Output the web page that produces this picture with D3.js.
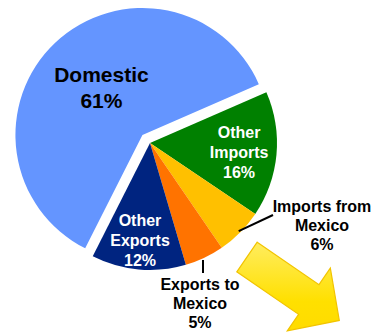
<!DOCTYPE html>
<html>
<head>
<meta charset="utf-8">
<script src="https://cdn.jsdelivr.net/npm/d3@7"></script>
<style>
  html, body { margin: 0; padding: 0; background: #fff; overflow: hidden; }
  svg { display: block; font-family: "Liberation Sans", Arial, sans-serif; font-weight: bold; }
</style>
</head>
<body>
<div id="chart"></div>
<script>
// slice data, clockwise from the green wedge
const categories = ["Other Imports", "Imports from Mexico", "Exports to Mexico", "Other Exports", "Domestic"];
const shares = [16, 6, 5, 12, 61];
const colors = ["#008000", "#ffc000", "#ff7300", "#002480", "#6495ff"];
const labelLines = [
  ["Other", "Imports", "16%"],
  ["Imports from", "Mexico", "6%"],
  ["Exports to", "Mexico", "5%"],
  ["Other", "Exports", "12%"],
  ["Domestic", "61%"]
];

const width = 373, height = 332;
const cx = 150, cy = 143, r = 127;
const explode = 11;

const svg = d3.select("#chart").append("svg")
  .attr("width", width)
  .attr("height", height);

const data = categories.map((c, i) => ({ name: c, value: shares[i], color: colors[i], lines: labelLines[i] }));

const startAngle = 66.4 * Math.PI / 180;
const pie = d3.pie().sort(null).value(d => d.value)
  .startAngle(startAngle).endAngle(startAngle + 2 * Math.PI);
const arcs = pie(data);

const arc = d3.arc().innerRadius(0).outerRadius(r);

// offset for exploded slice (Domestic)
function offset(d) {
  if (d.data.name !== "Domestic") return [0, 0];
  const a = (d.startAngle + d.endAngle) / 2;
  return [Math.sin(a) * explode, -Math.cos(a) * explode];
}

const g = svg.append("g").attr("transform", `translate(${cx},${cy})`);

g.selectAll("path.slice")
  .data(arcs)
  .join("path")
  .attr("class", "slice")
  .attr("transform", d => `translate(${offset(d)})`)
  .attr("d", arc)
  .attr("fill", d => d.data.color);

// labels inside the slices: radius factor and small angle nudge
const inside = {
  "Other Imports": { k: 0.705, da: 0.013 },
  "Other Exports": { k: 0.768, da: 0.012 },
  "Domestic": { k: 0.494, da: 0.045 }
};
arcs.filter(d => inside[d.data.name]).forEach(d => {
  const p = inside[d.data.name];
  const a = (d.startAngle + d.endAngle) / 2 + p.da;
  const rr = r * p.k;
  const o = offset(d);
  const x = Math.sin(a) * rr + o[0], y = -Math.cos(a) * rr + o[1];
  const big = d.data.name === "Domestic";
  const lh = big ? 26 : 20;
  const fs = big ? 21 : 16;
  const n = d.data.lines.length;
  const t = g.append("text")
    .attr("text-anchor", "middle")
    .attr("font-size", fs)
    .attr("fill", big ? "#000" : "#fff");
  d.data.lines.forEach((line, i) => {
    t.append("tspan")
      .attr("x", x)
      .attr("y", y + (i - (n - 1) / 2) * lh + fs * 0.36)
      .text(line);
  });
});

// outside labels with leader lines
const outside = {
  "Imports from Mexico": { end: [123, 72], text: [172, 69] },
  "Exports to Mexico": { end: [53, 130], text: [50, 147] }
};
arcs.filter(d => outside[d.data.name]).forEach(d => {
  const a = (d.startAngle + d.endAngle) / 2;
  const s = outside[d.data.name];
  const x0 = Math.sin(a) * (r - 2), y0 = -Math.cos(a) * (r - 2);
  let x1 = s.end[0], y1 = s.end[1];
  let xs = x0, ys = y0;
  if (d.data.name === "Exports to Mexico") { xs = x1; ys = y0 + 4; }
  g.append("line")
    .attr("x1", xs).attr("y1", ys)
    .attr("x2", x1).attr("y2", y1)
    .attr("stroke", "#000").attr("stroke-width", 2);
  const t = g.append("text")
    .attr("text-anchor", "middle")
    .attr("font-size", 16)
    .attr("fill", "#000");
  d.data.lines.forEach((line, i) => {
    t.append("tspan")
      .attr("x", s.text[0])
      .attr("y", s.text[1] + i * 19)
      .text(line);
  });
});

// yellow arrow decoration
const defs = svg.append("defs");
const grad = defs.append("linearGradient").attr("id", "arrowGrad")
  .attr("x1", "0").attr("y1", "0").attr("x2", "1").attr("y2", "1");
grad.append("stop").attr("offset", "0%").attr("stop-color", "#fff07a");
grad.append("stop").attr("offset", "60%").attr("stop-color", "#ffe000");
grad.append("stop").attr("offset", "100%").attr("stop-color", "#ffd800");

const L = 112, hl = 37, sw = 18, hw = 38;
const arrowPts = [[0, -sw], [L - hl, -sw], [L - hl, -hw], [L, 0], [L - hl, hw], [L - hl, sw], [0, sw]];
svg.append("path")
  .attr("transform", "translate(247,257) rotate(34.5)")
  .attr("d", d3.line()(arrowPts) + "Z")
  .attr("fill", "url(#arrowGrad)")
  .attr("stroke", "#f2c400")
  .attr("stroke-width", 1.2)
  .attr("stroke-linejoin", "miter");
</script>
</body>
</html>
